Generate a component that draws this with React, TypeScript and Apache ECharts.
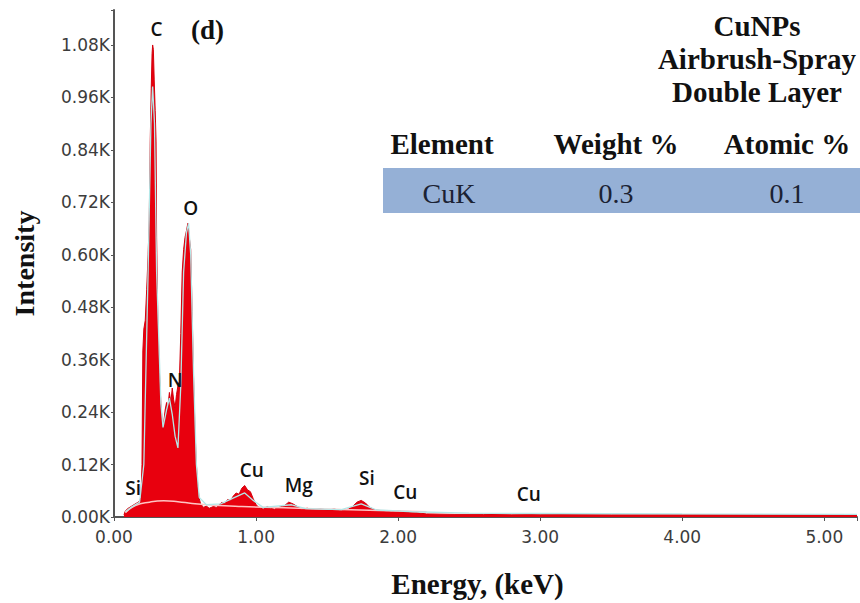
import React, { useEffect, useRef } from "react";
import * as echarts from "echarts";

// ---- Spectrum (measured counts) ----
const specEnergy = [
  0.07, 0.08, 0.1, 0.12, 0.14, 0.16, 0.18, 0.19, 0.197, 0.203, 0.21, 0.22, 0.23, 0.24, 0.248, 0.255,
  0.262, 0.268, 0.272, 0.277, 0.283, 0.29, 0.296, 0.3, 0.305, 0.31, 0.32, 0.33, 0.34, 0.345, 0.35,
  0.36, 0.37, 0.375, 0.38, 0.39, 0.4, 0.41, 0.42, 0.43, 0.44, 0.45, 0.46, 0.47, 0.48, 0.49, 0.5,
  0.51, 0.52, 0.53, 0.54, 0.55, 0.56, 0.57, 0.58, 0.59, 0.6, 0.61, 0.63, 0.65, 0.67, 0.7, 0.72,
  0.74, 0.76, 0.78, 0.8, 0.82, 0.84, 0.86, 0.88, 0.9, 0.92, 0.94, 0.96, 0.98, 1.0, 1.02, 1.05,
  1.08, 1.1, 1.13, 1.16, 1.2, 1.23, 1.26, 1.29, 1.32, 1.36, 1.4, 1.45, 1.5, 1.55, 1.6, 1.65, 1.68,
  1.71, 1.74, 1.77, 1.8, 1.84, 1.9, 1.95, 2.0, 2.05, 2.1, 2.15, 2.2, 2.4, 2.6, 2.8, 3.0, 3.5, 4.0,
  4.5, 5.0, 5.23,
];
const specCounts = [
  5, 14, 20, 24, 28, 32, 36, 45, 120, 380, 430, 450, 520, 600, 680, 860,
  980, 1060, 1080, 1070, 1000, 930, 860, 640, 520, 430, 330, 260, 215, 200, 215,
  245, 262, 240, 255, 285, 262, 295, 268, 250, 280, 300, 310, 420, 560, 612, 640,
  655, 672, 640, 612, 470, 320, 200, 120, 70, 42, 30, 22, 25, 20, 24, 22,
  28, 34, 30, 40, 38, 48, 55, 52, 66, 72, 62, 58, 42, 28, 22, 18,
  24, 20, 18, 22, 26, 34, 30, 24, 18, 20, 17, 19, 16, 18, 15, 18, 24,
  34, 38, 32, 22, 16, 14, 12, 14, 11, 12, 9, 7, 6, 6, 5, 6, 5, 5,
  5, 5, 5,
];

// ---- Fitted spectrum ----
const fitEnergy = [
  0.08, 0.12, 0.18, 0.21, 0.24, 0.26, 0.272, 0.285, 0.3, 0.33, 0.345, 0.37, 0.39, 0.41, 0.43, 0.45,
  0.47, 0.49, 0.51, 0.525, 0.54, 0.56, 0.58, 0.6, 0.65, 0.75, 0.85, 0.92, 0.98, 1.05, 1.25, 1.35,
  1.6, 1.74, 1.85, 2.0, 2.1, 2.5, 3.0, 4.0, 5.23,
];
const fitCounts = [
  12, 22, 34, 120, 560, 900, 985, 900, 560, 260, 205, 245, 272, 235, 185, 158,
  300, 560, 650, 672, 600, 330, 120, 45, 28, 30, 45, 55, 38, 22, 28, 19,
  17, 30, 16, 14, 12, 9, 8, 7, 6,
];

// ---- Background ----
const bgEnergy = [0.08, 0.15, 0.25, 0.35, 0.45, 0.55, 0.7, 0.9, 1.2, 1.6, 2.0, 2.2];
const bgCounts = [10, 26, 34, 37, 35, 31, 27, 24, 21, 17, 14, 12];

// ---- Element peak labels ----
const peakNames = ["C", "O", "N", "Si", "Cu", "Mg", "Si", "Cu", "Cu"];
const peakEnergy = [0.3, 0.54, 0.43, 0.135, 0.97, 1.3, 1.78, 2.05, 2.92];
const peakLabelY = [1117, 708, 313, 66, 107, 73, 89, 57, 53];

// ---- Axes ----
const xMin = 0;
const xMax = 5.23;
const xInterval = 1;
const yMin = 0;
const yMax = 1160;
const yInterval = 120;

// ---- Texts / table ----
const panelLabel = "(d)";
const titleLines = ["CuNPs", "Airbrush-Spray", "Double Layer"];
const tableHeaders = ["Element", "Weight %", "Atomic %"];
const tableRow = ["CuK", "0.3", "0.1"];

export default function App() {
  const ref = useRef<HTMLDivElement>(null);

  useEffect(() => {
    if (!ref.current) return;
    const chart = echarts.init(ref.current, null, { renderer: "svg" });

    const serif = "'Liberation Serif', 'Times New Roman', serif";
    const sans = "'DejaVu Sans', sans-serif";
    const colX = [442, 616, 787];

    const graphic: any[] = [
      {
        type: "text",
        left: 191,
        top: 16,
        style: { text: panelLabel, font: `bold 27px ${serif}`, fill: "#111" },
        z: 10,
      },
      ...titleLines.map((t, i) => ({
        type: "text",
        x: 757,
        y: 26 + i * 33,
        style: {
          text: t,
          font: `bold 29px ${serif}`,
          fill: "#111",
          align: "center",
          verticalAlign: "middle",
        },
        z: 10,
      })),
      ...tableHeaders.map((t, i) => ({
        type: "text",
        x: colX[i],
        y: 144,
        style: {
          text: t,
          font: `bold 29px ${serif}`,
          fill: "#111",
          align: "center",
          verticalAlign: "middle",
        },
        z: 10,
      })),
      {
        type: "rect",
        shape: { x: 383, y: 168, width: 477, height: 45 },
        style: { fill: "#95b0d6" },
        z: 9,
      },
      ...tableRow.map((t, i) => ({
        type: "text",
        x: colX[i] + (i === 0 ? 7 : 0),
        y: 193,
        style: {
          text: t,
          font: `28px ${serif}`,
          fill: "#1b2233",
          align: "center",
          verticalAlign: "middle",
        },
        z: 10,
      })),
    ];

    chart.setOption({
      animation: false,
      backgroundColor: "#ffffff",
      grid: { left: 114, right: 0, top: 10, bottom: 85, containLabel: false },
      xAxis: {
        type: "value",
        min: xMin,
        max: xMax,
        interval: xInterval,
        name: "Energy, (keV)",
        nameLocation: "middle",
        nameGap: 52,
        nameTextStyle: {
          fontFamily: serif,
          fontWeight: "bold",
          fontSize: 29,
          color: "#111",
          padding: [0, 16, 0, 0],
        },
        axisLine: { show: true, lineStyle: { color: "#555", width: 2 } },
        axisTick: { show: true, length: 4, lineStyle: { color: "#555" } },
        axisLabel: {
          margin: 11,
          fontFamily: sans,
          fontSize: 17,
          color: "#3c3c3c",
          formatter: (v: number) => (Math.abs(v - Math.round(v)) < 1e-6 ? v.toFixed(2) : ""),
        },
        splitLine: { show: false },
      },
      yAxis: {
        type: "value",
        min: yMin,
        max: yMax,
        interval: yInterval,
        name: "Intensity",
        nameLocation: "middle",
        nameGap: 76,
        nameRotate: 90,
        nameTextStyle: { fontFamily: serif, fontWeight: "bold", fontSize: 28, color: "#111" },
        axisLine: { show: true, lineStyle: { color: "#555", width: 2 } },
        axisTick: { show: true, length: 3, lineStyle: { color: "#555" } },
        axisLabel: {
          margin: 4,
          fontFamily: sans,
          fontSize: 17,
          color: "#3c3c3c",
          formatter: (v: number) =>
            Math.abs(v % yInterval) < 1e-6 ? (v / 1000).toFixed(2) + "K" : "",
        },
        splitLine: { show: false },
      },
      series: [
        {
          type: "line",
          name: "Spectrum",
          data: specEnergy.map((e, i) => [e, specCounts[i]]),
          showSymbol: false,
          symbol: "none",
          lineStyle: { color: "#d4000c", width: 1 },
          areaStyle: { color: "#e8000e", opacity: 1 },
          z: 2,
        },
        {
          type: "line",
          name: "Background",
          data: bgEnergy.map((e, i) => [e, bgCounts[i]]),
          smooth: true,
          symbol: "none",
          lineStyle: { color: "#ffc4c4", width: 1.5 },
          z: 3,
        },
        {
          type: "line",
          name: "Fit",
          data: fitEnergy.map((e, i) => [e, fitCounts[i]]),
          symbol: "none",
          lineStyle: { color: "#b4e8e8", width: 1.3 },
          z: 4,
        },
        {
          type: "scatter",
          name: "Peaks",
          data: peakEnergy.map((e, i) => [e, peakLabelY[i], peakNames[i]]),
          symbolSize: 0,
          itemStyle: { color: "transparent" },
          label: {
            show: true,
            position: "inside",
            formatter: (p: any) => p.data[2],
            fontFamily: "'Open Sans', sans-serif",
            fontWeight: 600,
            fontSize: 19,
            color: "#111111",
            opacity: 1,
          },
          z: 5,
        },
      ],
      graphic,
    });

    return () => chart.dispose();
  }, []);

  return (
    <div
      ref={ref}
      style={{ position: "fixed", left: 0, top: 0, width: 860, height: 603 }}
    />
  );
}
